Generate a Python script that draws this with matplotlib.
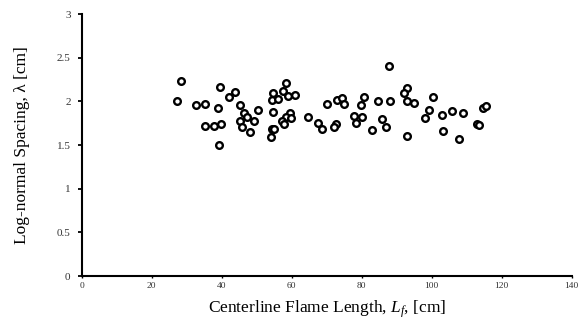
import numpy as np
import matplotlib
matplotlib.use("Agg")
import matplotlib.pyplot as plt

# flame length [cm] and log-normal spacing [cm]
flame_length = [28.4, 27.2, 39.6, 32.7, 35.2, 39.0, 35.3, 37.7, 39.7, 39.3,
                42.0, 43.8, 45.1, 46.3, 47.3, 49.2, 50.3, 45.1, 45.8, 48.1,
                54.7, 54.3, 56.0, 54.7, 54.3, 55.0, 54.0, 58.3, 57.6, 59.0,
                60.9, 59.4, 58.4, 59.8, 57.3, 57.9, 64.6, 70.0, 67.6, 68.6,
                72.6, 72.2, 73.0, 74.5, 74.9, 77.7, 80.0, 78.5, 80.7, 79.9,
                82.9, 84.7, 87.7, 93.1, 92.0, 88.0, 93.1, 94.9, 100.4, 99.3,
                98.2, 103.0, 105.9, 108.9, 85.8, 86.9, 93.1, 103.4, 107.7, 114.7,
                115.6, 112.9, 113.6]
spacing = [2.236, 2.001, 2.167, 1.960, 1.971, 1.925, 1.721, 1.721, 1.736, 1.499,
           2.047, 2.105, 1.960, 1.863, 1.825, 1.779, 1.897, 1.771, 1.706, 1.649,
           2.093, 2.017, 2.029, 1.882, 1.690, 1.690, 1.598, 2.209, 2.124, 2.063,
           2.078, 1.871, 1.817, 1.810, 1.775, 1.736, 1.825, 1.975, 1.752, 1.690,
           1.741, 1.702, 2.021, 2.040, 1.971, 1.828, 1.825, 1.752, 2.052, 1.963,
           1.675, 2.001, 2.401, 2.156, 2.093, 2.001, 2.001, 1.986, 2.047, 1.902,
           1.810, 1.844, 1.886, 1.871, 1.794, 1.706, 1.603, 1.664, 1.571, 1.929,
           1.948, 1.744, 1.725]

xticks = np.arange(0, 141, 20)
yticks = [0, 0.5, 1, 1.5, 2, 2.5, 3]
ytick_labels = ['0', '0.5', '1', '1.5', '2', '2.5', '3']

plt.rcParams['font.family'] = ['Liberation Serif', 'DejaVu Serif']
plt.rcParams['mathtext.fontset'] = 'custom'
plt.rcParams['mathtext.it'] = 'Liberation Serif:italic'
plt.rcParams['mathtext.rm'] = 'Liberation Serif'

fig = plt.figure(figsize=(5.82, 3.21), dpi=100)
ax = fig.add_axes([0.1404, 0.140, 0.8416, 0.816])

ax.plot(flame_length, spacing, 'o', markerfacecolor='white', markeredgecolor='black',
        markersize=4.8, markeredgewidth=1.7, linestyle='none')

ax.set_xlim(0, 140)
ax.set_ylim(0, 3)
ax.set_xticks(xticks)
ax.set_yticks(yticks)
ax.set_yticklabels(ytick_labels)
ax.tick_params(axis='y', labelsize=8, length=3, width=1.3, direction='out',
               color='black', labelcolor='#333333', pad=5)
ax.tick_params(axis='x', labelsize=6.8, length=1.5, width=1, direction='out',
               color='black', labelcolor='#333333', pad=3)

for s in ['top', 'right']:
    ax.spines[s].set_visible(False)
for s in ['left', 'bottom']:
    ax.spines[s].set_linewidth(1.5)

ax.set_xlabel('Centerline Flame Length, $L_f$, [cm]', fontsize=12.5, labelpad=6)
ax.set_ylabel('Log-normal Spacing, λ [cm]', fontsize=12.5, labelpad=19)

fig.savefig('out.png', dpi=100)
